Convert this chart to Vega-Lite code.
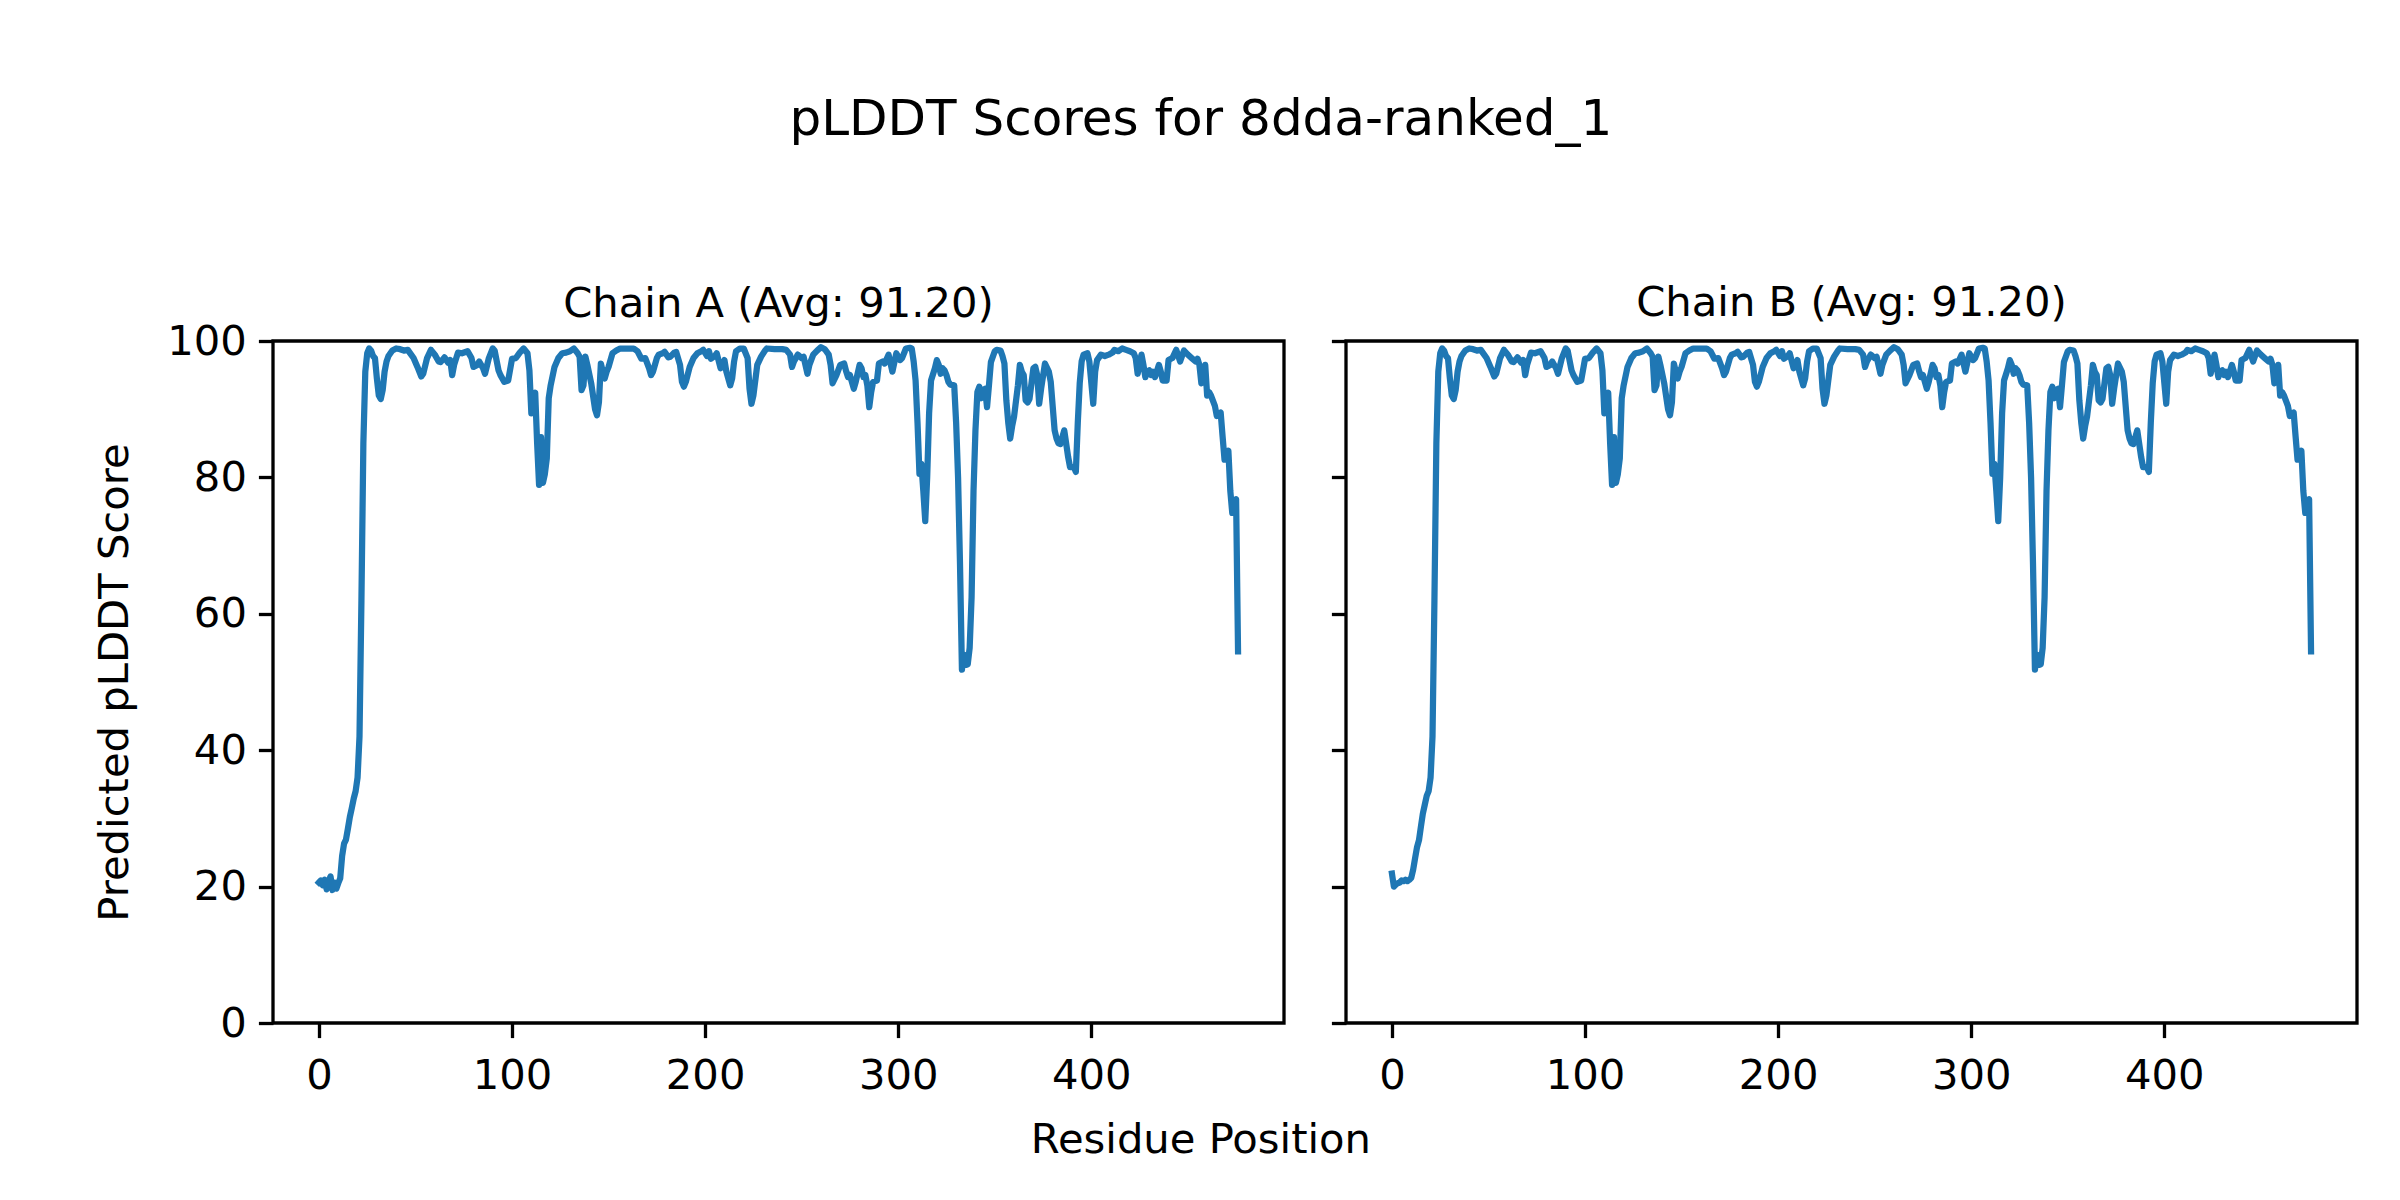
{
"$schema": "https://vega.github.io/schema/vega-lite/v6.json",
"background": "white",
"padding": {"left": 93, "top": 95, "right": 0, "bottom": 0},
"title": {"text": "pLDDT Scores for 8dda-ranked_1", "fontSize": 50, "offset": 136, "anchor": "middle", "dx": -25},
"data": {"name": "pl"},
"datasets": {"pl": [
{"chain":"A","residue":0,"score":20.6},{"chain":"A","residue":1,"score":20.9},{"chain":"A","residue":2,"score":20.2},{"chain":"A","residue":3,"score":21.0},{"chain":"A","residue":4,"score":19.6},{"chain":"A","residue":5,"score":20.8},{"chain":"A","residue":6,"score":21.5},{"chain":"A","residue":7,"score":19.5},{"chain":"A","residue":8,"score":20.6},{"chain":"A","residue":9,"score":19.7},{"chain":"A","residue":10,"score":20.5},{"chain":"A","residue":11,"score":21.2},{"chain":"A","residue":12,"score":24.5},{"chain":"A","residue":13,"score":26.3},{"chain":"A","residue":14,"score":26.9},{"chain":"A","residue":15,"score":28.5},{"chain":"A","residue":16,"score":30.2},{"chain":"A","residue":17,"score":31.5},{"chain":"A","residue":18,"score":32.9},{"chain":"A","residue":19,"score":34.0},{"chain":"A","residue":20,"score":36.0},
{"chain":"A","residue":21,"score":42.0},{"chain":"A","residue":22,"score":62.0},{"chain":"A","residue":23,"score":85.0},{"chain":"A","residue":24,"score":95.5},{"chain":"A","residue":25,"score":98.2},{"chain":"A","residue":26,"score":98.9},{"chain":"A","residue":27,"score":98.6},{"chain":"A","residue":28,"score":97.8},{"chain":"A","residue":29,"score":97.5},{"chain":"A","residue":30,"score":94.5},{"chain":"A","residue":31,"score":92.0},{"chain":"A","residue":32,"score":91.5},{"chain":"A","residue":33,"score":92.8},{"chain":"A","residue":34,"score":95.5},{"chain":"A","residue":35,"score":97.0},{"chain":"A","residue":36,"score":97.8},{"chain":"A","residue":38,"score":98.6},{"chain":"A","residue":40,"score":98.9},{"chain":"A","residue":42,"score":98.8},{"chain":"A","residue":44,"score":98.6},{"chain":"A","residue":46,"score":98.7},{"chain":"A","residue":47,"score":98.3},{"chain":"A","residue":49,"score":97.5},{"chain":"A","residue":51,"score":96.2},{"chain":"A","residue":53,"score":94.8},{"chain":"A","residue":54,"score":95.2},{"chain":"A","residue":56,"score":97.5},{"chain":"A","residue":58,"score":98.7},{"chain":"A","residue":60,"score":98.0},{"chain":"A","residue":62,"score":97.0},{"chain":"A","residue":63,"score":96.9},{"chain":"A","residue":65,"score":97.6},{"chain":"A","residue":67,"score":96.8},{"chain":"A","residue":68,"score":97.2},{"chain":"A","residue":69,"score":95.0},{"chain":"A","residue":70,"score":96.5},{"chain":"A","residue":72,"score":98.3},{"chain":"A","residue":74,"score":98.2},{"chain":"A","residue":77,"score":98.5},{"chain":"A","residue":79,"score":97.5},{"chain":"A","residue":80,"score":96.2},{"chain":"A","residue":82,"score":96.5},{"chain":"A","residue":83,"score":97.0},{"chain":"A","residue":85,"score":96.0},{"chain":"A","residue":86,"score":95.2},{"chain":"A","residue":88,"score":97.5},{"chain":"A","residue":90,"score":98.9},{"chain":"A","residue":91,"score":98.6},{"chain":"A","residue":93,"score":95.7},{"chain":"A","residue":94,"score":95.0},{"chain":"A","residue":96,"score":94.0},{"chain":"A","residue":98,"score":94.2},{"chain":"A","residue":100,"score":97.4},{"chain":"A","residue":102,"score":97.5},{"chain":"A","residue":104,"score":98.3},{"chain":"A","residue":106,"score":98.9},{"chain":"A","residue":108,"score":98.2},{"chain":"A","residue":109,"score":95.7},{"chain":"A","residue":110,"score":89.4},{"chain":"A","residue":111,"score":92.0},{"chain":"A","residue":112,"score":92.4},{"chain":"A","residue":113,"score":85.0},{"chain":"A","residue":114,"score":78.9},{"chain":"A","residue":115,"score":85.9},{"chain":"A","residue":116,"score":79.2},{"chain":"A","residue":117,"score":80.5},{"chain":"A","residue":118,"score":82.8},{"chain":"A","residue":119,"score":91.6},{"chain":"A","residue":120,"score":93.5},{"chain":"A","residue":122,"score":96.2},{"chain":"A","residue":124,"score":97.5},{"chain":"A","residue":126,"score":98.2},{"chain":"A","residue":128,"score":98.3},{"chain":"A","residue":130,"score":98.5},{"chain":"A","residue":132,"score":98.9},{"chain":"A","residue":134,"score":98.2},{"chain":"A","residue":135,"score":97.7},{"chain":"A","residue":136,"score":92.8},{"chain":"A","residue":137,"score":93.5},{"chain":"A","residue":138,"score":97.7},{"chain":"A","residue":139,"score":96.5},{"chain":"A","residue":141,"score":93.8},{"chain":"A","residue":143,"score":90.0},{"chain":"A","residue":144,"score":89.1},{"chain":"A","residue":145,"score":91.0},{"chain":"A","residue":146,"score":96.7},{"chain":"A","residue":147,"score":95.5},{"chain":"A","residue":148,"score":94.5},{"chain":"A","residue":149,"score":95.5},{"chain":"A","residue":150,"score":96.2},{"chain":"A","residue":152,"score":98.2},{"chain":"A","residue":154,"score":98.6},{"chain":"A","residue":156,"score":98.9},{"chain":"A","residue":160,"score":98.9},{"chain":"A","residue":163,"score":98.9},{"chain":"A","residue":165,"score":98.5},{"chain":"A","residue":167,"score":97.4},{"chain":"A","residue":169,"score":97.5},{"chain":"A","residue":171,"score":96.0},{"chain":"A","residue":172,"score":95.0},{"chain":"A","residue":173,"score":95.5},{"chain":"A","residue":175,"score":97.5},{"chain":"A","residue":176,"score":98.0},{"chain":"A","residue":178,"score":98.2},{"chain":"A","residue":179,"score":98.4},{"chain":"A","residue":181,"score":97.6},{"chain":"A","residue":182,"score":97.7},{"chain":"A","residue":184,"score":98.3},{"chain":"A","residue":185,"score":98.4},{"chain":"A","residue":187,"score":96.5},{"chain":"A","residue":188,"score":94.0},{"chain":"A","residue":189,"score":93.3},{"chain":"A","residue":190,"score":94.0},{"chain":"A","residue":192,"score":96.2},{"chain":"A","residue":194,"score":97.5},{"chain":"A","residue":196,"score":98.2},{"chain":"A","residue":198,"score":98.5},{"chain":"A","residue":199,"score":98.7},{"chain":"A","residue":201,"score":97.8},{"chain":"A","residue":202,"score":98.5},{"chain":"A","residue":203,"score":97.4},{"chain":"A","residue":205,"score":97.8},{"chain":"A","residue":206,"score":98.2},{"chain":"A","residue":208,"score":96.0},{"chain":"A","residue":209,"score":96.5},{"chain":"A","residue":210,"score":97.2},{"chain":"A","residue":211,"score":95.5},{"chain":"A","residue":213,"score":93.5},{"chain":"A","residue":214,"score":94.5},{"chain":"A","residue":215,"score":97.0},{"chain":"A","residue":216,"score":98.5},{"chain":"A","residue":218,"score":98.9},{"chain":"A","residue":220,"score":98.9},{"chain":"A","residue":222,"score":97.5},{"chain":"A","residue":223,"score":93.0},{"chain":"A","residue":224,"score":90.8},{"chain":"A","residue":225,"score":92.0},{"chain":"A","residue":227,"score":96.5},{"chain":"A","residue":229,"score":97.7},{"chain":"A","residue":231,"score":98.6},{"chain":"A","residue":232,"score":98.9},{"chain":"A","residue":236,"score":98.8},{"chain":"A","residue":240,"score":98.8},{"chain":"A","residue":242,"score":98.7},{"chain":"A","residue":244,"score":98.0},{"chain":"A","residue":245,"score":96.2},{"chain":"A","residue":246,"score":97.0},{"chain":"A","residue":248,"score":98.0},{"chain":"A","residue":250,"score":97.5},{"chain":"A","residue":251,"score":97.7},{"chain":"A","residue":253,"score":95.2},{"chain":"A","residue":254,"score":96.5},{"chain":"A","residue":256,"score":98.0},{"chain":"A","residue":258,"score":98.6},{"chain":"A","residue":260,"score":99.1},{"chain":"A","residue":262,"score":98.8},{"chain":"A","residue":264,"score":98.0},{"chain":"A","residue":265,"score":96.5},{"chain":"A","residue":266,"score":93.8},{"chain":"A","residue":268,"score":95.0},{"chain":"A","residue":270,"score":96.5},{"chain":"A","residue":272,"score":96.7},{"chain":"A","residue":273,"score":95.6},{"chain":"A","residue":274,"score":94.7},{"chain":"A","residue":275,"score":95.0},{"chain":"A","residue":277,"score":93.0},{"chain":"A","residue":278,"score":94.0},{"chain":"A","residue":280,"score":96.5},{"chain":"A","residue":281,"score":96.0},{"chain":"A","residue":282,"score":94.7},{"chain":"A","residue":283,"score":95.0},{"chain":"A","residue":284,"score":93.5},{"chain":"A","residue":285,"score":90.3},{"chain":"A","residue":286,"score":92.5},{"chain":"A","residue":287,"score":94.0},{"chain":"A","residue":289,"score":94.2},{"chain":"A","residue":290,"score":96.7},{"chain":"A","residue":292,"score":97.0},{"chain":"A","residue":293,"score":96.7},{"chain":"A","residue":295,"score":98.0},{"chain":"A","residue":297,"score":95.5},{"chain":"A","residue":299,"score":98.2},{"chain":"A","residue":301,"score":97.2},{"chain":"A","residue":302,"score":97.5},{"chain":"A","residue":304,"score":98.9},{"chain":"A","residue":306,"score":99.0},{"chain":"A","residue":307,"score":98.9},{"chain":"A","residue":308,"score":97.0},{"chain":"A","residue":309,"score":94.2},{"chain":"A","residue":310,"score":88.0},{"chain":"A","residue":311,"score":80.5},{"chain":"A","residue":312,"score":82.0},{"chain":"A","residue":313,"score":78.0},{"chain":"A","residue":314,"score":73.6},{"chain":"A","residue":315,"score":80.0},{"chain":"A","residue":316,"score":89.4},{"chain":"A","residue":317,"score":94.2},{"chain":"A","residue":319,"score":96.0},{"chain":"A","residue":320,"score":97.2},{"chain":"A","residue":321,"score":96.5},{"chain":"A","residue":322,"score":95.2},{"chain":"A","residue":323,"score":96.0},{"chain":"A","residue":324,"score":95.7},{"chain":"A","residue":325,"score":95.0},{"chain":"A","residue":326,"score":94.0},{"chain":"A","residue":327,"score":93.6},{"chain":"A","residue":329,"score":93.5},{"chain":"A","residue":330,"score":88.0},{"chain":"A","residue":331,"score":80.0},{"chain":"A","residue":332,"score":67.3},{"chain":"A","residue":333,"score":51.8},{"chain":"A","residue":334,"score":54.0},{"chain":"A","residue":335,"score":52.5},{"chain":"A","residue":336,"score":52.6},{"chain":"A","residue":337,"score":55.0},{"chain":"A","residue":338,"score":62.4},{"chain":"A","residue":339,"score":78.0},{"chain":"A","residue":340,"score":86.9},{"chain":"A","residue":341,"score":92.5},{"chain":"A","residue":342,"score":93.3},{"chain":"A","residue":343,"score":91.6},{"chain":"A","residue":344,"score":92.8},{"chain":"A","residue":345,"score":93.0},{"chain":"A","residue":346,"score":90.3},{"chain":"A","residue":347,"score":93.5},{"chain":"A","residue":348,"score":96.9},{"chain":"A","residue":350,"score":98.5},{"chain":"A","residue":351,"score":98.7},{"chain":"A","residue":353,"score":98.6},{"chain":"A","residue":354,"score":97.8},{"chain":"A","residue":355,"score":96.7},{"chain":"A","residue":356,"score":91.3},{"chain":"A","residue":357,"score":88.0},{"chain":"A","residue":358,"score":85.7},{"chain":"A","residue":359,"score":87.5},{"chain":"A","residue":360,"score":88.9},{"chain":"A","residue":362,"score":93.5},{"chain":"A","residue":363,"score":96.5},{"chain":"A","residue":364,"score":95.5},{"chain":"A","residue":365,"score":95.0},{"chain":"A","residue":366,"score":91.3},{"chain":"A","residue":367,"score":91.0},{"chain":"A","residue":368,"score":91.5},{"chain":"A","residue":370,"score":96.0},{"chain":"A","residue":371,"score":96.2},{"chain":"A","residue":372,"score":95.0},{"chain":"A","residue":373,"score":90.8},{"chain":"A","residue":374,"score":93.0},{"chain":"A","residue":376,"score":96.7},{"chain":"A","residue":378,"score":95.5},{"chain":"A","residue":379,"score":94.0},{"chain":"A","residue":381,"score":86.9},{"chain":"A","residue":382,"score":85.7},{"chain":"A","residue":383,"score":85.0},{"chain":"A","residue":384,"score":84.9},{"chain":"A","residue":386,"score":86.9},{"chain":"A","residue":388,"score":83.0},{"chain":"A","residue":389,"score":81.5},{"chain":"A","residue":391,"score":81.5},{"chain":"A","residue":392,"score":80.8},{"chain":"A","residue":393,"score":88.0},{"chain":"A","residue":394,"score":93.8},{"chain":"A","residue":395,"score":97.0},{"chain":"A","residue":396,"score":98.0},{"chain":"A","residue":398,"score":98.2},{"chain":"A","residue":399,"score":97.0},{"chain":"A","residue":401,"score":90.8},{"chain":"A","residue":402,"score":95.5},{"chain":"A","residue":403,"score":97.2},{"chain":"A","residue":405,"score":98.0},{"chain":"A","residue":407,"score":97.8},{"chain":"A","residue":409,"score":98.0},{"chain":"A","residue":411,"score":98.3},{"chain":"A","residue":412,"score":98.7},{"chain":"A","residue":414,"score":98.5},{"chain":"A","residue":416,"score":98.9},{"chain":"A","residue":418,"score":98.7},{"chain":"A","residue":420,"score":98.5},{"chain":"A","residue":422,"score":98.2},{"chain":"A","residue":423,"score":97.5},{"chain":"A","residue":424,"score":95.2},{"chain":"A","residue":425,"score":96.5},{"chain":"A","residue":426,"score":98.0},{"chain":"A","residue":427,"score":96.5},{"chain":"A","residue":428,"score":94.7},{"chain":"A","residue":429,"score":95.5},{"chain":"A","residue":430,"score":95.7},{"chain":"A","residue":431,"score":95.0},{"chain":"A","residue":432,"score":95.5},{"chain":"A","residue":433,"score":94.7},{"chain":"A","residue":435,"score":96.5},{"chain":"A","residue":436,"score":95.5},{"chain":"A","residue":437,"score":94.2},{"chain":"A","residue":439,"score":94.2},{"chain":"A","residue":440,"score":97.2},{"chain":"A","residue":442,"score":97.5},{"chain":"A","residue":444,"score":98.7},{"chain":"A","residue":446,"score":97.0},{"chain":"A","residue":448,"score":98.6},{"chain":"A","residue":450,"score":98.0},{"chain":"A","residue":452,"score":97.5},{"chain":"A","residue":454,"score":97.0},{"chain":"A","residue":455,"score":97.4},{"chain":"A","residue":456,"score":96.5},{"chain":"A","residue":457,"score":93.8},{"chain":"A","residue":458,"score":95.5},{"chain":"A","residue":459,"score":96.5},{"chain":"A","residue":460,"score":92.0},{"chain":"A","residue":461,"score":92.5},{"chain":"A","residue":462,"score":92.0},{"chain":"A","residue":464,"score":90.5},{"chain":"A","residue":465,"score":89.0},{"chain":"A","residue":467,"score":89.5},{"chain":"A","residue":468,"score":86.0},{"chain":"A","residue":469,"score":82.6},{"chain":"A","residue":470,"score":83.5},{"chain":"A","residue":471,"score":83.9},{"chain":"A","residue":472,"score":78.0},{"chain":"A","residue":473,"score":74.8},{"chain":"A","residue":474,"score":76.5},{"chain":"A","residue":475,"score":76.8},{"chain":"A","residue":476,"score":54.5},
{"chain":"B","residue":0,"score":21.9},{"chain":"B","residue":1,"score":20.0},{"chain":"B","residue":2,"score":20.3},{"chain":"B","residue":3,"score":20.5},{"chain":"B","residue":4,"score":20.6},{"chain":"B","residue":5,"score":20.9},{"chain":"B","residue":6,"score":20.8},{"chain":"B","residue":7,"score":21.0},{"chain":"B","residue":8,"score":20.8},{"chain":"B","residue":9,"score":21.0},{"chain":"B","residue":10,"score":21.3},{"chain":"B","residue":11,"score":22.5},{"chain":"B","residue":12,"score":24.2},{"chain":"B","residue":13,"score":25.8},{"chain":"B","residue":14,"score":26.8},{"chain":"B","residue":15,"score":28.8},{"chain":"B","residue":16,"score":30.7},{"chain":"B","residue":17,"score":32.0},{"chain":"B","residue":18,"score":33.3},{"chain":"B","residue":19,"score":34.0},{"chain":"B","residue":20,"score":36.0},
{"chain":"B","residue":21,"score":42.0},{"chain":"B","residue":22,"score":62.0},{"chain":"B","residue":23,"score":85.0},{"chain":"B","residue":24,"score":95.5},{"chain":"B","residue":25,"score":98.2},{"chain":"B","residue":26,"score":98.9},{"chain":"B","residue":27,"score":98.6},{"chain":"B","residue":28,"score":97.8},{"chain":"B","residue":29,"score":97.5},{"chain":"B","residue":30,"score":94.5},{"chain":"B","residue":31,"score":92.0},{"chain":"B","residue":32,"score":91.5},{"chain":"B","residue":33,"score":92.8},{"chain":"B","residue":34,"score":95.5},{"chain":"B","residue":35,"score":97.0},{"chain":"B","residue":36,"score":97.8},{"chain":"B","residue":38,"score":98.6},{"chain":"B","residue":40,"score":98.9},{"chain":"B","residue":42,"score":98.8},{"chain":"B","residue":44,"score":98.6},{"chain":"B","residue":46,"score":98.7},{"chain":"B","residue":47,"score":98.3},{"chain":"B","residue":49,"score":97.5},{"chain":"B","residue":51,"score":96.2},{"chain":"B","residue":53,"score":94.8},{"chain":"B","residue":54,"score":95.2},{"chain":"B","residue":56,"score":97.5},{"chain":"B","residue":58,"score":98.7},{"chain":"B","residue":60,"score":98.0},{"chain":"B","residue":62,"score":97.0},{"chain":"B","residue":63,"score":96.9},{"chain":"B","residue":65,"score":97.6},{"chain":"B","residue":67,"score":96.8},{"chain":"B","residue":68,"score":97.2},{"chain":"B","residue":69,"score":95.0},{"chain":"B","residue":70,"score":96.5},{"chain":"B","residue":72,"score":98.3},{"chain":"B","residue":74,"score":98.2},{"chain":"B","residue":77,"score":98.5},{"chain":"B","residue":79,"score":97.5},{"chain":"B","residue":80,"score":96.2},{"chain":"B","residue":82,"score":96.5},{"chain":"B","residue":83,"score":97.0},{"chain":"B","residue":85,"score":96.0},{"chain":"B","residue":86,"score":95.2},{"chain":"B","residue":88,"score":97.5},{"chain":"B","residue":90,"score":98.9},{"chain":"B","residue":91,"score":98.6},{"chain":"B","residue":93,"score":95.7},{"chain":"B","residue":94,"score":95.0},{"chain":"B","residue":96,"score":94.0},{"chain":"B","residue":98,"score":94.2},{"chain":"B","residue":100,"score":97.4},{"chain":"B","residue":102,"score":97.5},{"chain":"B","residue":104,"score":98.3},{"chain":"B","residue":106,"score":98.9},{"chain":"B","residue":108,"score":98.2},{"chain":"B","residue":109,"score":95.7},{"chain":"B","residue":110,"score":89.4},{"chain":"B","residue":111,"score":92.0},{"chain":"B","residue":112,"score":92.4},{"chain":"B","residue":113,"score":85.0},{"chain":"B","residue":114,"score":78.9},{"chain":"B","residue":115,"score":85.9},{"chain":"B","residue":116,"score":79.2},{"chain":"B","residue":117,"score":80.5},{"chain":"B","residue":118,"score":82.8},{"chain":"B","residue":119,"score":91.6},{"chain":"B","residue":120,"score":93.5},{"chain":"B","residue":122,"score":96.2},{"chain":"B","residue":124,"score":97.5},{"chain":"B","residue":126,"score":98.2},{"chain":"B","residue":128,"score":98.3},{"chain":"B","residue":130,"score":98.5},{"chain":"B","residue":132,"score":98.9},{"chain":"B","residue":134,"score":98.2},{"chain":"B","residue":135,"score":97.7},{"chain":"B","residue":136,"score":92.8},{"chain":"B","residue":137,"score":93.5},{"chain":"B","residue":138,"score":97.7},{"chain":"B","residue":139,"score":96.5},{"chain":"B","residue":141,"score":93.8},{"chain":"B","residue":143,"score":90.0},{"chain":"B","residue":144,"score":89.1},{"chain":"B","residue":145,"score":91.0},{"chain":"B","residue":146,"score":96.7},{"chain":"B","residue":147,"score":95.5},{"chain":"B","residue":148,"score":94.5},{"chain":"B","residue":149,"score":95.5},{"chain":"B","residue":150,"score":96.2},{"chain":"B","residue":152,"score":98.2},{"chain":"B","residue":154,"score":98.6},{"chain":"B","residue":156,"score":98.9},{"chain":"B","residue":160,"score":98.9},{"chain":"B","residue":163,"score":98.9},{"chain":"B","residue":165,"score":98.5},{"chain":"B","residue":167,"score":97.4},{"chain":"B","residue":169,"score":97.5},{"chain":"B","residue":171,"score":96.0},{"chain":"B","residue":172,"score":95.0},{"chain":"B","residue":173,"score":95.5},{"chain":"B","residue":175,"score":97.5},{"chain":"B","residue":176,"score":98.0},{"chain":"B","residue":178,"score":98.2},{"chain":"B","residue":179,"score":98.4},{"chain":"B","residue":181,"score":97.6},{"chain":"B","residue":182,"score":97.7},{"chain":"B","residue":184,"score":98.3},{"chain":"B","residue":185,"score":98.4},{"chain":"B","residue":187,"score":96.5},{"chain":"B","residue":188,"score":94.0},{"chain":"B","residue":189,"score":93.3},{"chain":"B","residue":190,"score":94.0},{"chain":"B","residue":192,"score":96.2},{"chain":"B","residue":194,"score":97.5},{"chain":"B","residue":196,"score":98.2},{"chain":"B","residue":198,"score":98.5},{"chain":"B","residue":199,"score":98.7},{"chain":"B","residue":201,"score":97.8},{"chain":"B","residue":202,"score":98.5},{"chain":"B","residue":203,"score":97.4},{"chain":"B","residue":205,"score":97.8},{"chain":"B","residue":206,"score":98.2},{"chain":"B","residue":208,"score":96.0},{"chain":"B","residue":209,"score":96.5},{"chain":"B","residue":210,"score":97.2},{"chain":"B","residue":211,"score":95.5},{"chain":"B","residue":213,"score":93.5},{"chain":"B","residue":214,"score":94.5},{"chain":"B","residue":215,"score":97.0},{"chain":"B","residue":216,"score":98.5},{"chain":"B","residue":218,"score":98.9},{"chain":"B","residue":220,"score":98.9},{"chain":"B","residue":222,"score":97.5},{"chain":"B","residue":223,"score":93.0},{"chain":"B","residue":224,"score":90.8},{"chain":"B","residue":225,"score":92.0},{"chain":"B","residue":227,"score":96.5},{"chain":"B","residue":229,"score":97.7},{"chain":"B","residue":231,"score":98.6},{"chain":"B","residue":232,"score":98.9},{"chain":"B","residue":236,"score":98.8},{"chain":"B","residue":240,"score":98.8},{"chain":"B","residue":242,"score":98.7},{"chain":"B","residue":244,"score":98.0},{"chain":"B","residue":245,"score":96.2},{"chain":"B","residue":246,"score":97.0},{"chain":"B","residue":248,"score":98.0},{"chain":"B","residue":250,"score":97.5},{"chain":"B","residue":251,"score":97.7},{"chain":"B","residue":253,"score":95.2},{"chain":"B","residue":254,"score":96.5},{"chain":"B","residue":256,"score":98.0},{"chain":"B","residue":258,"score":98.6},{"chain":"B","residue":260,"score":99.1},{"chain":"B","residue":262,"score":98.8},{"chain":"B","residue":264,"score":98.0},{"chain":"B","residue":265,"score":96.5},{"chain":"B","residue":266,"score":93.8},{"chain":"B","residue":268,"score":95.0},{"chain":"B","residue":270,"score":96.5},{"chain":"B","residue":272,"score":96.7},{"chain":"B","residue":273,"score":95.6},{"chain":"B","residue":274,"score":94.7},{"chain":"B","residue":275,"score":95.0},{"chain":"B","residue":277,"score":93.0},{"chain":"B","residue":278,"score":94.0},{"chain":"B","residue":280,"score":96.5},{"chain":"B","residue":281,"score":96.0},{"chain":"B","residue":282,"score":94.7},{"chain":"B","residue":283,"score":95.0},{"chain":"B","residue":284,"score":93.5},{"chain":"B","residue":285,"score":90.3},{"chain":"B","residue":286,"score":92.5},{"chain":"B","residue":287,"score":94.0},{"chain":"B","residue":289,"score":94.2},{"chain":"B","residue":290,"score":96.7},{"chain":"B","residue":292,"score":97.0},{"chain":"B","residue":293,"score":96.7},{"chain":"B","residue":295,"score":98.0},{"chain":"B","residue":297,"score":95.5},{"chain":"B","residue":299,"score":98.2},{"chain":"B","residue":301,"score":97.2},{"chain":"B","residue":302,"score":97.5},{"chain":"B","residue":304,"score":98.9},{"chain":"B","residue":306,"score":99.0},{"chain":"B","residue":307,"score":98.9},{"chain":"B","residue":308,"score":97.0},{"chain":"B","residue":309,"score":94.2},{"chain":"B","residue":310,"score":88.0},{"chain":"B","residue":311,"score":80.5},{"chain":"B","residue":312,"score":82.0},{"chain":"B","residue":313,"score":78.0},{"chain":"B","residue":314,"score":73.6},{"chain":"B","residue":315,"score":80.0},{"chain":"B","residue":316,"score":89.4},{"chain":"B","residue":317,"score":94.2},{"chain":"B","residue":319,"score":96.0},{"chain":"B","residue":320,"score":97.2},{"chain":"B","residue":321,"score":96.5},{"chain":"B","residue":322,"score":95.2},{"chain":"B","residue":323,"score":96.0},{"chain":"B","residue":324,"score":95.7},{"chain":"B","residue":325,"score":95.0},{"chain":"B","residue":326,"score":94.0},{"chain":"B","residue":327,"score":93.6},{"chain":"B","residue":329,"score":93.5},{"chain":"B","residue":330,"score":88.0},{"chain":"B","residue":331,"score":80.0},{"chain":"B","residue":332,"score":67.3},{"chain":"B","residue":333,"score":51.8},{"chain":"B","residue":334,"score":54.0},{"chain":"B","residue":335,"score":52.5},{"chain":"B","residue":336,"score":52.6},{"chain":"B","residue":337,"score":55.0},{"chain":"B","residue":338,"score":62.4},{"chain":"B","residue":339,"score":78.0},{"chain":"B","residue":340,"score":86.9},{"chain":"B","residue":341,"score":92.5},{"chain":"B","residue":342,"score":93.3},{"chain":"B","residue":343,"score":91.6},{"chain":"B","residue":344,"score":92.8},{"chain":"B","residue":345,"score":93.0},{"chain":"B","residue":346,"score":90.3},{"chain":"B","residue":347,"score":93.5},{"chain":"B","residue":348,"score":96.9},{"chain":"B","residue":350,"score":98.5},{"chain":"B","residue":351,"score":98.7},{"chain":"B","residue":353,"score":98.6},{"chain":"B","residue":354,"score":97.8},{"chain":"B","residue":355,"score":96.7},{"chain":"B","residue":356,"score":91.3},{"chain":"B","residue":357,"score":88.0},{"chain":"B","residue":358,"score":85.7},{"chain":"B","residue":359,"score":87.5},{"chain":"B","residue":360,"score":88.9},{"chain":"B","residue":362,"score":93.5},{"chain":"B","residue":363,"score":96.5},{"chain":"B","residue":364,"score":95.5},{"chain":"B","residue":365,"score":95.0},{"chain":"B","residue":366,"score":91.3},{"chain":"B","residue":367,"score":91.0},{"chain":"B","residue":368,"score":91.5},{"chain":"B","residue":370,"score":96.0},{"chain":"B","residue":371,"score":96.2},{"chain":"B","residue":372,"score":95.0},{"chain":"B","residue":373,"score":90.8},{"chain":"B","residue":374,"score":93.0},{"chain":"B","residue":376,"score":96.7},{"chain":"B","residue":378,"score":95.5},{"chain":"B","residue":379,"score":94.0},{"chain":"B","residue":381,"score":86.9},{"chain":"B","residue":382,"score":85.7},{"chain":"B","residue":383,"score":85.0},{"chain":"B","residue":384,"score":84.9},{"chain":"B","residue":386,"score":86.9},{"chain":"B","residue":388,"score":83.0},{"chain":"B","residue":389,"score":81.5},{"chain":"B","residue":391,"score":81.5},{"chain":"B","residue":392,"score":80.8},{"chain":"B","residue":393,"score":88.0},{"chain":"B","residue":394,"score":93.8},{"chain":"B","residue":395,"score":97.0},{"chain":"B","residue":396,"score":98.0},{"chain":"B","residue":398,"score":98.2},{"chain":"B","residue":399,"score":97.0},{"chain":"B","residue":401,"score":90.8},{"chain":"B","residue":402,"score":95.5},{"chain":"B","residue":403,"score":97.2},{"chain":"B","residue":405,"score":98.0},{"chain":"B","residue":407,"score":97.8},{"chain":"B","residue":409,"score":98.0},{"chain":"B","residue":411,"score":98.3},{"chain":"B","residue":412,"score":98.7},{"chain":"B","residue":414,"score":98.5},{"chain":"B","residue":416,"score":98.9},{"chain":"B","residue":418,"score":98.7},{"chain":"B","residue":420,"score":98.5},{"chain":"B","residue":422,"score":98.2},{"chain":"B","residue":423,"score":97.5},{"chain":"B","residue":424,"score":95.2},{"chain":"B","residue":425,"score":96.5},{"chain":"B","residue":426,"score":98.0},{"chain":"B","residue":427,"score":96.5},{"chain":"B","residue":428,"score":94.7},{"chain":"B","residue":429,"score":95.5},{"chain":"B","residue":430,"score":95.7},{"chain":"B","residue":431,"score":95.0},{"chain":"B","residue":432,"score":95.5},{"chain":"B","residue":433,"score":94.7},{"chain":"B","residue":435,"score":96.5},{"chain":"B","residue":436,"score":95.5},{"chain":"B","residue":437,"score":94.2},{"chain":"B","residue":439,"score":94.2},{"chain":"B","residue":440,"score":97.2},{"chain":"B","residue":442,"score":97.5},{"chain":"B","residue":444,"score":98.7},{"chain":"B","residue":446,"score":97.0},{"chain":"B","residue":448,"score":98.6},{"chain":"B","residue":450,"score":98.0},{"chain":"B","residue":452,"score":97.5},{"chain":"B","residue":454,"score":97.0},{"chain":"B","residue":455,"score":97.4},{"chain":"B","residue":456,"score":96.5},{"chain":"B","residue":457,"score":93.8},{"chain":"B","residue":458,"score":95.5},{"chain":"B","residue":459,"score":96.5},{"chain":"B","residue":460,"score":92.0},{"chain":"B","residue":461,"score":92.5},{"chain":"B","residue":462,"score":92.0},{"chain":"B","residue":464,"score":90.5},{"chain":"B","residue":465,"score":89.0},{"chain":"B","residue":467,"score":89.5},{"chain":"B","residue":468,"score":86.0},{"chain":"B","residue":469,"score":82.6},{"chain":"B","residue":470,"score":83.5},{"chain":"B","residue":471,"score":83.9},{"chain":"B","residue":472,"score":78.0},{"chain":"B","residue":473,"score":74.8},{"chain":"B","residue":474,"score":76.5},{"chain":"B","residue":475,"score":76.8},{"chain":"B","residue":476,"score":54.5}
]},
"vconcat": [
{
"title": {"text": "Residue Position", "orient": "bottom", "fontSize": 41.7, "offset": 21, "anchor": "middle", "dx": -25},
"hconcat": [
{
"width": 1011, "height": 682,
"title": {"text": "Chain A (Avg: 91.20)", "offset": -5, "frame": "group"},
"transform": [{"filter": "datum.chain == 'A'"}],
"mark": {"type": "line", "color": "#1f77b4", "strokeWidth": 6.25, "strokeJoin": "round", "strokeCap": "square"},
"encoding": {
"x": {"field": "residue", "type": "quantitative", "scale": {"domain": [-23.8, 499.8], "nice": false, "zero": false}, "axis": {"values": [0, 100, 200, 300, 400], "title": null, "labelPadding": 18}},
"y": {"field": "score", "type": "quantitative", "scale": {"domain": [0, 100], "nice": false}, "axis": {"values": [0, 20, 40, 60, 80, 100], "title": "Predicted pLDDT Score", "titlePadding": 30, "labelPadding": 12}}
}
},
{
"width": 1011, "height": 682,
"title": {"text": "Chain B (Avg: 91.20)", "offset": 15, "frame": "group"},
"transform": [{"filter": "datum.chain == 'B'"}],
"mark": {"type": "line", "color": "#1f77b4", "strokeWidth": 6.25, "strokeJoin": "round", "strokeCap": "square"},
"encoding": {
"x": {"field": "residue", "type": "quantitative", "scale": {"domain": [-23.8, 499.8], "nice": false, "zero": false}, "axis": {"values": [0, 100, 200, 300, 400], "title": null, "labelPadding": 18}},
"y": {"field": "score", "type": "quantitative", "scale": {"domain": [0, 100], "nice": false}, "axis": {"values": [0, 20, 40, 60, 80, 100], "labels": false, "title": null}}
}
}
]
}
],
"config": {
"font": "DejaVu Sans",
"view": {"stroke": "black", "strokeWidth": 3.3},
"concat": {"spacing": 42},
"axis": {"domain": false, "grid": false, "ticks": true, "tickColor": "black", "tickWidth": 3.3, "tickSize": 14.6, "labelFont": "DejaVu Sans", "labelFontSize": 41.7, "labelColor": "black", "labelPadding": 12, "labelFlush": false, "labelOverlap": false, "titleFont": "DejaVu Sans", "titleFontSize": 41.7, "titleFontWeight": "normal", "titleColor": "black"},
"title": {"font": "DejaVu Sans", "fontSize": 41.7, "fontWeight": "normal", "color": "black"}
}
}
